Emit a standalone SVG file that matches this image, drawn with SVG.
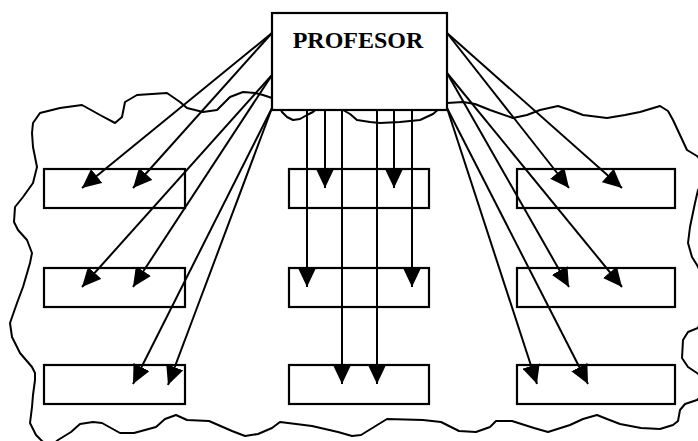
<svg xmlns="http://www.w3.org/2000/svg" width="698" height="441" viewBox="0 0 698 441">
<style>
.cloud{fill:none;stroke:#000;stroke-width:2;stroke-linejoin:round}
.box{fill:none;stroke:#000;stroke-width:2.2}
.main{fill:#fff;stroke:#000;stroke-width:2.2}
.c{stroke:#000;stroke-width:2;fill:none;marker-end:url(#ah)}
.t{font-family:"Liberation Serif","Times New Roman",serif;font-size:24px;font-weight:bold;fill:#000}
</style>
<defs>
<marker id="ah" markerUnits="userSpaceOnUse" markerWidth="19" markerHeight="18" refX="19" refY="9" orient="auto" viewBox="0 0 19 18">
<path d="M0,0 L19,9 L0,18 Z" fill="#000"/>
</marker>
</defs>
<rect width="698" height="441" fill="#fff"/>
<path class="cloud" d="M33,147 L32,133 L33,123 L40,113 L60,108 L82,105 L100,115 L115,123 L122,117 L125,102 L137,95 L167,93 L180,102 L187,108 L203,112 L217,110 L230,97 L243,92 L255,93 L263,95 L272,98 L278,104 L282,112 L287,117 L293,120 L300,119 L307,115 L313,112 L320,106 L335,104 L343,110 L350,114 L357,120 L370,122 L380,123 L400,122 L420,120 L433,114 L440,108 L447,103 L463,102 L475,104 L490,110 L513,118 L527,115 L540,110 L558,106 L570,110 L583,115 L607,118 L625,115 L640,112 L660,106 L668,111 L673,120 L680,135 L687,150 L697,156 L712,172 L698,190 L695,203 L690,227 L688,243 L692,257 L697,265 L712,296 L698,328 L688,332 L683,340 L682,358 L688,367 L697,373 L712,385 L697,400 L685,404 L680,410 L678,421 L673,425 L660,429 L641,428 L620,424 L607,419 L597,415 L583,419 L570,425 L548,432 L534,428 L512,421 L496,421 L490,427 L476,432 L459,431 L441,422 L423,420 L387,419 L374,427 L361,435 L352,436 L338,432 L312,426 L280,422 L272,428 L258,434 L245,436 L232,431 L209,421 L187,420 L176,415 L165,419 L156,427 L134,433 L120,433 L102,423 L93,422 L80,424 L71,432 L58,440 L50,447 L42,441 L36,435 L30,423 L32,407 L33,395 L35,380 L35,373 L32,367 L20,353 L12,337 L10,323 L17,303 L23,287 L30,263 L32,253 L27,240 L18,230 L14,222 L15,207 L23,197 L33,183 L37,167 Z"/>
<g id="profesor">
<rect class="main" x="272" y="13" width="175" height="97"/>
<text class="t" x="358" y="48" text-anchor="middle">PROFESOR</text>
</g>
<g id="l1"><rect class="box" x="44" y="169" width="141" height="39"/></g>
<g id="l2"><rect class="box" x="44" y="268" width="141" height="39"/></g>
<g id="l3"><rect class="box" x="44" y="365" width="141" height="39"/></g>
<g id="m1"><rect class="box" x="289" y="169" width="140" height="39"/></g>
<g id="m2"><rect class="box" x="289" y="268" width="140" height="39"/></g>
<g id="m3"><rect class="box" x="289" y="365" width="140" height="39"/></g>
<g id="r1"><rect class="box" x="517" y="169" width="158" height="39"/></g>
<g id="r2"><rect class="box" x="517" y="268" width="158" height="39"/></g>
<g id="r3"><rect class="box" x="517" y="365" width="158" height="39"/></g>
<g id="connectors">
<line class="c" x1="272" y1="33" x2="82" y2="188"/>
<line class="c" x1="272" y1="33" x2="133" y2="188"/>
<line class="c" x1="272" y1="75" x2="82" y2="287"/>
<line class="c" x1="272" y1="75" x2="133" y2="287"/>
<line class="c" x1="272" y1="108" x2="133" y2="384"/>
<line class="c" x1="272" y1="108" x2="168" y2="385"/>
<line class="c" x1="447" y1="33" x2="569" y2="188"/>
<line class="c" x1="447" y1="33" x2="622" y2="188"/>
<line class="c" x1="447" y1="73" x2="569" y2="287"/>
<line class="c" x1="447" y1="73" x2="622" y2="287"/>
<line class="c" x1="447" y1="108" x2="537" y2="384"/>
<line class="c" x1="447" y1="108" x2="588" y2="384"/>
<line class="c" x1="307" y1="110" x2="307" y2="287"/>
<line class="c" x1="325" y1="110" x2="325" y2="188"/>
<line class="c" x1="342" y1="110" x2="342" y2="384"/>
<line class="c" x1="377" y1="110" x2="377" y2="384"/>
<line class="c" x1="394" y1="110" x2="394" y2="188"/>
<line class="c" x1="412" y1="110" x2="412" y2="287"/>
</g>
</svg>
